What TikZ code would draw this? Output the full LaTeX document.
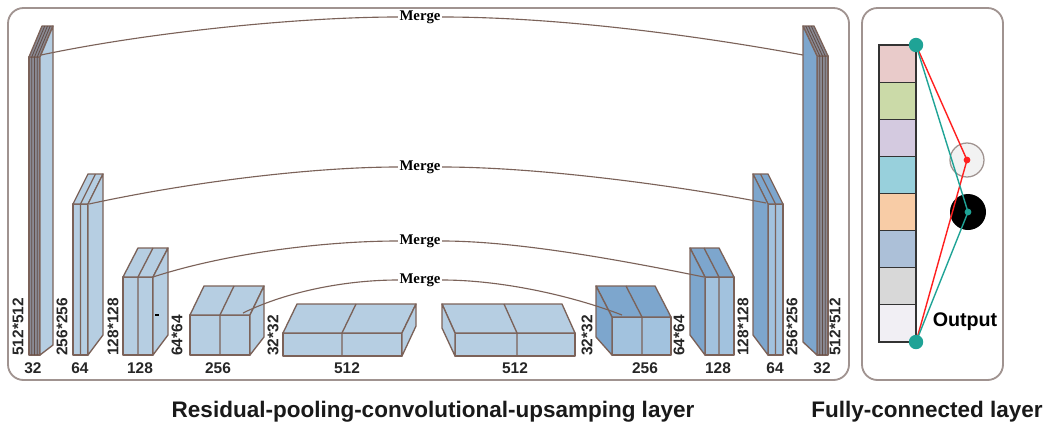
\documentclass[tikz,border=0pt]{standalone}
\usepackage{fontspec}
\setmainfont{Liberation Serif}
\setsansfont{Liberation Sans}
\usepackage{xcolor}
\definecolor{vizEdge}{HTML}{7B6259}
\definecolor{vizFrame}{HTML}{A09390}
\definecolor{vizLight}{HTML}{B6CEE2}
\definecolor{vizMid}{HTML}{A2C2DE}
\definecolor{vizDark}{HTML}{7DA6CD}
\definecolor{vizSlab}{HTML}{8A8A94}
\definecolor{vizTeal}{HTML}{1FA396}
\definecolor{vizRed}{HTML}{FF1F1F}
\definecolor{cellA}{HTML}{E9CBCA}
\definecolor{cellB}{HTML}{CBDAA8}
\definecolor{cellC}{HTML}{D4CAE0}
\definecolor{cellD}{HTML}{98D0DC}
\definecolor{cellE}{HTML}{F8CCA6}
\definecolor{cellF}{HTML}{ACC0D8}
\definecolor{cellG}{HTML}{D8D8D8}
\definecolor{cellH}{HTML}{F1EFF4}
\tikzset{
  blockedge/.style={draw=vizEdge, line width=0.95pt, line join=round},
  lightface/.style={blockedge, fill=vizLight},
  midface/.style={blockedge, fill=vizMid},
  darkface/.style={blockedge, fill=vizDark},
  slabface/.style={blockedge, fill=vizSlab},
  layerline/.style={draw=vizEdge!80!black, line width=0.6pt},
  frame/.style={draw=vizFrame, line width=1.3pt, rounded corners=11pt},
  mergeline/.style={draw=vizEdge, line width=0.8pt},
  mergelabel/.style={fill=white, inner sep=1pt, font=\rmfamily\bfseries\fontsize{10.5}{12}\selectfont},
  dimlabel/.style={inner sep=0pt, font=\sffamily\bfseries\fontsize{11}{13}\selectfont, text=black!85},
  cell/.style={draw=black!80, line width=0.8pt, minimum width=0.925cm, minimum height=0.928cm, inner sep=0pt},
  title/.style={font=\sffamily\bfseries\fontsize{16}{19}\selectfont, text=black!90}
}
\newcommand{\encblock}[9]{%
  \filldraw[#8] (#1,#3) rectangle (#2,#4);
  \filldraw[#9] (#1,#4) -- (#2,#4) -- ({#2+#5},{#4+#6}) -- ({#1+#5},{#4+#6}) -- cycle;
  \filldraw[#9] (#2,#3) -- (#2,#4) -- ({#2+#5},{#4+#6}) -- ({#2+#5},{#3+#7}) -- cycle;
}
\newcommand{\decblock}[9]{%
  \filldraw[#8] (#1,#3) rectangle (#2,#4);
  \filldraw[#9] (#1,#4) -- (#2,#4) -- ({#2+#5},{#4+#6}) -- ({#1+#5},{#4+#6}) -- cycle;
  \filldraw[#9] (#1,#3) -- (#1,#4) -- ({#1+#5},{#4+#6}) -- ({#1+#5},{#3+#7}) -- cycle;
}
\newcommand{\blocksplit}[5]{%
  \draw[blockedge] (#1,#2) -- (#1,#3) -- ++(#4,#5);
}

\begin{document}
\begin{tikzpicture}[x=0.025cm, y=-0.025cm]
  \useasboundingbox (0,0) rectangle (1055,429);
  \draw[frame] (8,8) rectangle (849,380);
  \draw[frame] (862,8) rectangle (1003,380);

  % encoder side
  \filldraw[slabface] (29,355) rectangle (40,57);
  \filldraw[slabface] (29,57) -- (40,57) -- (53,26) -- (42,26) -- cycle;
  \filldraw[lightface] (40,355) -- (40,57) -- (53,26) -- (53,345) -- cycle;
  \draw[layerline] (31.75,355) -- (31.75,57) -- ++(13,-31);
  \draw[layerline] (34.5,355) -- (34.5,57) -- ++(13,-31);
  \draw[layerline] (37.25,355) -- (37.25,57) -- ++(13,-31);
  \encblock{73}{88}{355}{204}{15}{-30}{-20}{lightface}{lightface}
  \blocksplit{80.5}{355}{204}{15}{-30}
  \encblock{123}{153}{355}{277}{15}{-29}{-20}{lightface}{lightface}
  \blocksplit{138}{355}{277}{15}{-29}
  \draw[black, line width=0.8pt] (155,315) -- (159,315);
  \encblock{190}{250}{355}{315}{14}{-29}{-18}{lightface}{lightface}
  \blocksplit{220}{355}{315}{14}{-29}
  \encblock{283}{402}{356}{333}{14}{-29}{-30}{lightface}{lightface}
  \blocksplit{342}{356}{333}{14}{-29}

  % decoder side
  \decblock{455}{575}{356}{333}{-13}{-29}{-28}{lightface}{lightface}
  \blocksplit{517}{356}{333}{-13}{-29}
  \decblock{612}{671}{355}{317}{-16}{-31}{-18}{midface}{darkface}
  \blocksplit{642}{355}{317}{-16}{-31}
  \decblock{705}{734}{355}{277}{-15}{-29}{-20}{midface}{darkface}
  \blocksplit{719}{355}{277}{-15}{-29}
  \decblock{768}{783}{355}{204}{-15}{-30}{-20}{midface}{darkface}
  \blocksplit{775.5}{355}{204}{-15}{-30}
  \filldraw[slabface] (817,355) rectangle (828,56);
  \filldraw[slabface] (817,56) -- (828,56) -- (814,26) -- (803,26) -- cycle;
  \filldraw[darkface] (817,355) -- (817,56) -- (803,26) -- (803,342) -- cycle;
  \draw[layerline] (819.75,355) -- (819.75,56) -- ++(-14,-30);
  \draw[layerline] (822.5,355) -- (822.5,56) -- ++(-14,-30);
  \draw[layerline] (825.25,355) -- (825.25,56) -- ++(-14,-30);

  % merge connections
  \coordinate (enc1) at (41,55);
  \coordinate (enc2) at (89,204);
  \coordinate (enc3) at (153,277);
  \coordinate (enc4) at (243,313);
  \coordinate (dec1) at (803,55);
  \coordinate (dec2) at (766,203);
  \coordinate (dec3) at (704,277);
  \coordinate (dec4) at (622,315);
  \node[mergelabel] (merge1) at (420,17) {Merge};
  \node[mergelabel] (merge2) at (420,167) {Merge};
  \node[mergelabel] (merge3) at (420,241) {Merge};
  \node[mergelabel] (merge4) at (420,280) {Merge};
  \draw[mergeline] (enc1) .. controls (150,32) and (300,17) .. (merge1.west);
  \draw[mergeline] (merge1.east) .. controls (560,17) and (700,36) .. (dec1);
  \draw[mergeline] (enc2) .. controls (200,180) and (320,167) .. (merge2.west);
  \draw[mergeline] (merge2.east) .. controls (540,167) and (680,186) .. (dec2);
  \draw[mergeline] (enc3) .. controls (230,252) and (330,241) .. (merge3.west);
  \draw[mergeline] (merge3.east) .. controls (520,241) and (630,262) .. (dec3);
  \draw[mergeline] (enc4) .. controls (290,290) and (350,280) .. (merge4.west);
  \draw[mergeline] (merge4.east) .. controls (500,280) and (570,295) .. (dec4);

  % sizes
  \node[dimlabel] (ch32a) at (33,368) {32};
  \node[dimlabel] (ch64a) at (80,368) {64};
  \node[dimlabel] (ch128a) at (140,368) {128};
  \node[dimlabel] (ch256a) at (218,368) {256};
  \node[dimlabel] (ch512a) at (347,368) {512};
  \node[dimlabel] (ch512b) at (515,368) {512};
  \node[dimlabel] (ch256b) at (645,368) {256};
  \node[dimlabel] (ch128b) at (718,368) {128};
  \node[dimlabel] (ch64b) at (775,368) {64};
  \node[dimlabel] (ch32b) at (822,368) {32};
  \node[dimlabel, rotate=90, anchor=west] (sz512a) at (18,356) {512*512};
  \node[dimlabel, rotate=90, anchor=west] (sz256a) at (62,356) {256*256};
  \node[dimlabel, rotate=90, anchor=west] (sz128a) at (113,356) {128*128};
  \node[dimlabel, rotate=90, anchor=west] (sz64a) at (177,356) {64*64};
  \node[dimlabel, rotate=90, anchor=west] (sz32a) at (273,356) {32*32};
  \node[dimlabel, rotate=90, anchor=west] (sz32b) at (587,356) {32*32};
  \node[dimlabel, rotate=90, anchor=west] (sz64b) at (679,356) {64*64};
  \node[dimlabel, rotate=90, anchor=west] (sz128b) at (743,356) {128*128};
  \node[dimlabel, rotate=90, anchor=west] (sz256b) at (792,356) {256*256};
  \node[dimlabel, rotate=90, anchor=west] (sz512b) at (835,356) {512*512};

  % fully-connected part
  \node[cell, fill=cellA] (c1) at (897.5,63.6) {};
  \node[cell, fill=cellB] (c2) at (897.5,100.7) {};
  \node[cell, fill=cellC] (c3) at (897.5,137.8) {};
  \node[cell, fill=cellD] (c4) at (897.5,174.9) {};
  \node[cell, fill=cellE] (c5) at (897.5,212.1) {};
  \node[cell, fill=cellF] (c6) at (897.5,249.2) {};
  \node[cell, fill=cellG] (c7) at (897.5,286.3) {};
  \node[cell, fill=cellH] (c8) at (897.5,323.4) {};
  \node[circle, draw=vizFrame, line width=0.9pt, fill=black!5, minimum size=0.85cm] (hid1) at (967,160) {};
  \node[circle, fill=black, minimum size=0.9cm] (hid2) at (968,212) {};
  \coordinate (fctop) at (916,45);
  \coordinate (fcbot) at (916,342);
  \draw[vizRed, line width=1pt] (fctop) -- (hid1.center) -- (fcbot);
  \draw[vizTeal, line width=1pt] (fctop) -- (hid2.center) -- (fcbot);
  \node[circle, fill=vizRed, minimum size=0.17cm, inner sep=0pt] (dot1) at (hid1.center) {};
  \node[circle, fill=vizTeal, minimum size=0.17cm, inner sep=0pt] (dot2) at (hid2.center) {};
  \node[circle, fill=vizTeal, minimum size=0.36cm, inner sep=0pt] (topdot) at (fctop) {};
  \node[circle, fill=vizTeal, minimum size=0.36cm, inner sep=0pt] (botdot) at (fcbot) {};
  \node[font=\sffamily\bfseries\fontsize{14}{16}\selectfont] (outlbl) at (965,322) {Output};

  \node[title] (restitle) at (433,412) {Residual-pooling-convolutional-upsamping layer};
  \node[title] (fctitle) at (927,412) {Fully-connected layer};
\end{tikzpicture}
\end{document}
